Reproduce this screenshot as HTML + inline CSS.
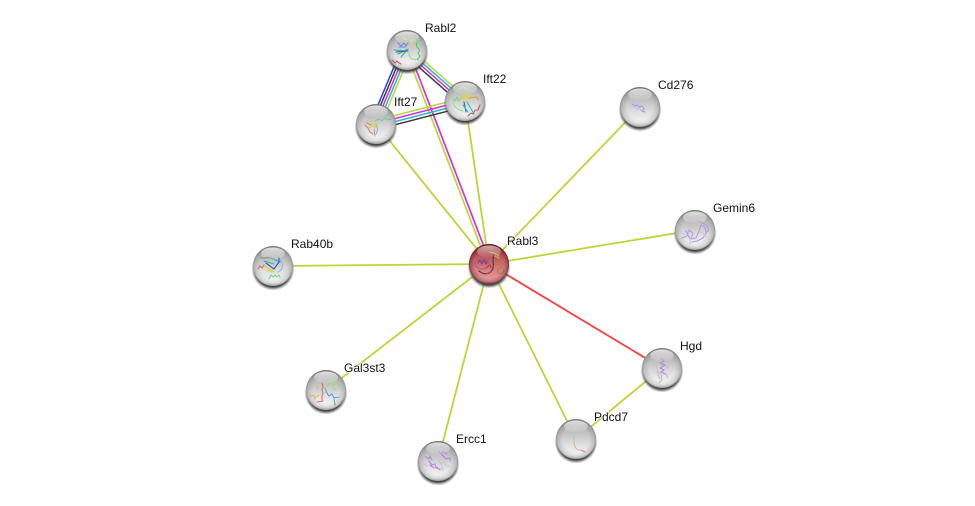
<!DOCTYPE html>
<html><head><meta charset="utf-8"><style>
html,body{margin:0;padding:0;background:#fff}
svg{display:block}
text{font-family:"Liberation Sans",sans-serif;font-size:12px;fill:#111;paint-order:stroke;stroke:#fff;stroke-width:2px;stroke-opacity:.8}
.y{stroke:#bcd535;stroke-width:1.8;fill:none}
.m line{stroke-width:1.5}
.p{fill:none;stroke-width:1.1;stroke-linejoin:round;stroke-linecap:round;filter:blur(.3px)}
</style></head><body>
<svg width="975" height="506" viewBox="0 0 975 506" xmlns="http://www.w3.org/2000/svg">
<defs>
<linearGradient id="b" x1="0" y1="0" x2="0" y2="1">
<stop offset="0" stop-color="#8c8c8c"/><stop offset=".25" stop-color="#b8b8b8"/><stop offset=".6" stop-color="#dcdcdc"/><stop offset=".9" stop-color="#f6f6f6"/><stop offset="1" stop-color="#d8d8d8"/>
</linearGradient>
<linearGradient id="r" x1="0" y1="0" x2="0" y2="1">
<stop offset="0" stop-color="#8e2a2e"/><stop offset=".3" stop-color="#bb5458"/><stop offset=".65" stop-color="#d77f82"/><stop offset=".92" stop-color="#e59a9c"/><stop offset="1" stop-color="#c87074"/>
</linearGradient>
<radialGradient id="e" cx="50%" cy="50%" r="50%">
<stop offset=".65" stop-color="#666" stop-opacity="0"/><stop offset=".9" stop-color="#666" stop-opacity=".22"/><stop offset="1" stop-color="#555" stop-opacity=".5"/>
</radialGradient>
<radialGradient id="re" cx="50%" cy="50%" r="50%">
<stop offset=".72" stop-color="#501015" stop-opacity="0"/><stop offset=".92" stop-color="#501015" stop-opacity=".3"/><stop offset="1" stop-color="#400a10" stop-opacity=".7"/>
</radialGradient>
<linearGradient id="g" x1="0" y1="0" x2="0" y2="1">
<stop offset="0" stop-color="#fff" stop-opacity=".75"/><stop offset="1" stop-color="#fff" stop-opacity=".05"/>
</linearGradient>
<radialGradient id="s" cx="50%" cy="50%" r="50%">
<stop offset=".84" stop-color="#333" stop-opacity=".9"/><stop offset="1" stop-color="#555" stop-opacity="0"/>
</radialGradient>
<g id="under"><circle cx="0" cy="3" r="21.5" fill="url(#s)"/></g>
<g id="gloss"><circle r="20" fill="url(#e)"/><ellipse cx="0" cy="-12.5" rx="12" ry="6" fill="url(#g)"/></g>
<g id="rgloss"><circle r="20" fill="url(#re)"/><ellipse cx="0" cy="-12.5" rx="12" ry="6" fill="url(#g)" opacity=".8"/></g>
</defs>

<!-- connectors -->
<line class="y" x1="376" y1="124" x2="489" y2="264"/>
<line class="y" x1="465" y1="101" x2="489" y2="264"/>
<line class="y" x1="640" y1="107" x2="489" y2="264"/>
<line class="y" x1="695" y1="230" x2="489" y2="264"/>
<line class="y" x1="273" y1="266" x2="489" y2="264"/>
<line class="y" x1="326" y1="390" x2="489" y2="264"/>
<line class="y" x1="438" y1="461" x2="489" y2="264"/>
<line class="y" x1="576" y1="439" x2="489" y2="264"/>
<line class="y" x1="662" y1="368" x2="576" y2="439"/>
<line x1="489" y1="264" x2="662" y2="368" stroke="#fb3b3b" stroke-width="1.8"/>
<line x1="405.6" y1="50.5" x2="487.6" y2="264.5" stroke="#bcd535" stroke-width="1.7"/>
<line x1="408.4" y1="49.5" x2="490.4" y2="263.5" stroke="#d52fd8" stroke-width="1.7"/>

<g class="m">
<!-- Rabl2-Ift27 -->
<line x1="401.9" y1="47.9" x2="370.9" y2="121.9" stroke="#2a3fe0"/>
<line x1="404.2" y1="48.8" x2="373.2" y2="122.8" stroke="#3a3a3a"/>
<line x1="406.5" y1="49.8" x2="375.5" y2="123.8" stroke="#d52fd8"/>
<line x1="408.8" y1="50.8" x2="377.8" y2="124.8" stroke="#22b5d5"/>
<line x1="411.2" y1="51.8" x2="380.2" y2="125.8" stroke="#bcd535"/>
<!-- Rabl2-Ift22 -->
<line x1="409" y1="47.7" x2="467" y2="98.7" stroke="#bcd535"/>
<line x1="407.3" y1="49.7" x2="465.3" y2="100.7" stroke="#22b5d5"/>
<line x1="405.5" y1="51.7" x2="463.5" y2="102.7" stroke="#d52fd8"/>
<line x1="403.7" y1="53.8" x2="461.7" y2="104.8" stroke="#3a3a3a"/>
<!-- Ift27-Ift22 -->
<line x1="375.1" y1="120.6" x2="464.1" y2="97.6" stroke="#bcd535"/>
<line x1="375.9" y1="123.5" x2="464.9" y2="100.5" stroke="#d52fd8"/>
<line x1="376.6" y1="126.4" x2="465.6" y2="103.4" stroke="#22b5d5"/>
<line x1="377.4" y1="129.3" x2="466.4" y2="106.3" stroke="#3a3a3a"/>
</g>

<!-- Rabl3 -->
<g transform="translate(489,264)"><use href="#under"/><circle r="20" fill="url(#r)"/>
<path class="p" stroke="#7a3a88" stroke-width="1.8" d="M-11-1l2-3 2 4 2-5 2 5 2-4"/>
<ellipse cx="-7" cy="0" rx="7" ry="5" fill="none" stroke="#a05a90" stroke-width=".8"/>
<path class="p" stroke="#4a3840" stroke-width="2.6" d="M-10 7c6 5 12 3 14-3 1-4-1-9 1-13"/>
<path class="p" stroke="#b08030" stroke-width="1.4" d="M8 0c4-3 7 0 5 3s-6 1-4 5 5 0 6-2"/>
<path class="p" stroke="#c04030" stroke-width="1.4" d="M-3 4l4-3 1 3M-3 10l5-2"/>
<path class="p" stroke="#c0b850" d="M1-12c3 1 6 1 9 4M6-8l4 2"/>
<use href="#rgloss"/></g>

<!-- Rabl2 -->
<g transform="translate(407,50)"><use href="#under"/><circle r="20" fill="url(#b)"/>
<path class="p" stroke="#6a8ae0" stroke-width="1.7" d="M-9-7l3 3 3-3 2 3 2-3M-8-3l6 0"/>
<path class="p" stroke="#50d060" stroke-width="1.8" d="M9-11c3 4-2 6 2 9s-2 5 1 7 -3 3-1 5"/>
<path class="p" stroke="#90e090" stroke-width=".8" d="M2-9c5-2 10 0 11 6M2 3c0 6 6 8 9 5"/>
<path class="p" stroke="#30b0a0" d="M-13 0l14 1M-9 4l10-5M-6 7l6-7"/>
<path class="p" stroke="#3060c0" d="M-11 2l12-1"/>
<path class="p" stroke="#d06050" stroke-width="1.8" d="M-15 10l3 3 2-2 2 2 2 1"/>
<path class="p" stroke="#e0d060" d="M-3-12l3 2M4-2l1-8"/>
<use href="#gloss"/></g>

<!-- Ift22 -->
<g transform="translate(465,101)"><use href="#under"/><circle r="20" fill="url(#b)"/>
<path class="p" stroke="#7ad880" stroke-width="1.4" d="M-12-3l2 3 2-4 2 4 2-3"/>
<path class="p" stroke="#90e090" stroke-width=".8" d="M-7-12c5-3 10-1 11 4M-12-3c-1 8 4 12 10 13"/>
<path class="p" stroke="#e8d040" stroke-width="1.8" d="M-3-6l2 6 2-8 2 7 2-6 1 5"/>
<path class="p" stroke="#d85a50" stroke-width="2.4" d="M3 15l3-3 2 1 2-4 3 0 2-5"/>
<path class="p" stroke="#3060d0" stroke-width="1.3" d="M-1 1l2 10"/>
<path class="p" stroke="#30b8b0" stroke-width="1.3" d="M2 1l7 12M-2 4l5 7"/>
<path class="p" stroke="#e89a40" stroke-width="1.4" d="M4-3l8-1 1 3"/>
<use href="#gloss"/></g>

<!-- Ift27 -->
<g transform="translate(376,124)"><use href="#under"/><circle r="20" fill="url(#b)"/>
<path class="p" stroke="#70d0a0" stroke-width="1.3" d="M-1-3l4-2 3 2 3-3 3 2 3-1"/>
<path class="p" stroke="#e08070" stroke-width="1.5" d="M-11 1l3 3 2 4 3 2M-9-1l4 2"/>
<path class="p" stroke="#d8d060" stroke-width="1.3" d="M-6-3l4 5 1 6M-3-1l3 4M-7 4l6-3"/>
<path class="p" stroke="#a0b0c0" d="M-2 6l1 6M0 0c2 4 2 7 0 10"/>
<use href="#gloss"/></g>

<!-- Cd276 -->
<g transform="translate(640,107)"><use href="#under"/><circle r="20" fill="url(#b)"/>
<path class="p" stroke="#a89ad8" stroke-width="1.3" d="M-8-3l3 2 2-1 2 2 3-1 2 3-2 2 3 1"/>
<path class="p" stroke="#c8c0e8" stroke-width=".9" d="M-7 0l4 2 3-1 1 3M-4-4l5 2"/>
<use href="#gloss"/></g>

<!-- Gemin6 -->
<g transform="translate(695,230)"><use href="#under"/><circle r="20" fill="url(#b)"/>
<path class="p" stroke="#b898e0" stroke-width="1.2" d="M-13 8l5-2 2-6 4 3-2 6 5-1 3-7 2-6 4 2 1 6-3 5-6 3-5 1M-9 1l4 8M3-9l6 3M10-6c4 2 4 6 2 8"/>
<path class="p" stroke="#cfc6e6" stroke-width=".8" d="M-14 3l4 2M-5 9l0 5M6 2l5 5"/>
<use href="#gloss"/></g>

<!-- Hgd -->
<g transform="translate(662,368)"><use href="#under"/><circle r="20" fill="url(#b)"/>
<path class="p" stroke="#b488dc" stroke-width="1.6" d="M-1-10l3 3-4 2 5 2-5 3 4 2-3 2 4 2"/>
<path class="p" stroke="#c0c0c8" stroke-width=".9" d="M-6-3l2 7 3 2 1 6-3 3M4 6l2 4M-5 4l3 7M3-4l3 4"/>
<use href="#gloss"/></g>

<!-- Pdcd7 -->
<g transform="translate(576,439)"><use href="#under"/><circle r="20" fill="url(#b)"/>
<path class="p" stroke="#90dcc0" d="M-1-12l-1 8 0 7"/>
<path class="p" stroke="#d8c080" d="M-2 3l1 5 3 3 3 0"/>
<path class="p" stroke="#e08a80" d="M5 11l4 2"/>
<use href="#gloss"/></g>

<!-- Ercc1 -->
<g transform="translate(438,461)"><use href="#under"/><circle r="20" fill="url(#b)"/>
<path class="p" stroke="#b488e0" stroke-width="2.2" d="M-12-4l3 2 1-3 2 4M-9 0l3 4 3-1 1 4 4 1M-8 4l4 3M-1 6l3 3"/>
<path class="p" stroke="#b488e0" stroke-width="2.2" d="M1-9l3 2 1-3 3 3 1-2M4-6l4 4 4-1 0 3"/>
<path class="p" stroke="#c8c8d0" stroke-width=".8" d="M0-2l3 5 3-2 2 4 3 0M3 3l2 6M-14 3l3 2"/>
<use href="#gloss"/></g>

<!-- Gal3st3 -->
<g transform="translate(326,390)"><use href="#under"/><circle r="20" fill="url(#b)"/>
<path class="p" stroke="#e07060" stroke-width="1.6" d="M-4-7l1 4-1 3 1 3-1 3 0 4M-9 12l6-1"/>
<path class="p" stroke="#5aa0e0" stroke-width="1.7" d="M0 2l3 4 3-2 2 4 5-1"/>
<path class="p" stroke="#a0dc80" stroke-width="1.4" d="M3-9l4 4 3-3 3 2-1 4M1-4l4-5M6-3l4 3"/>
<path class="p" stroke="#e0c060" stroke-width="1.3" d="M-15 6l3-1 1 4M-9-5l1 5M-11 8l4-3"/>
<path class="p" stroke="#50c0b0" stroke-width="1.3" d="M8 9l1 6M-1-2l2 5"/>
<use href="#gloss"/></g>

<!-- Rab40b -->
<g transform="translate(273,266)"><use href="#under"/><circle r="20" fill="url(#b)"/>
<path class="p" stroke="#28b8b0" stroke-width="1.6" d="M-12-8l10 0 9 4M-9-5l10 3"/>
<path class="p" stroke="#3a50d0" stroke-width="1.7" d="M-7-3l8 6 5-7 0-4"/>
<path class="p" stroke="#e0d040" stroke-width="1.3" d="M-8 0l9 6M-6 4l5 2"/>
<path class="p" stroke="#e06060" stroke-width="1.6" d="M-15 3l2-3 2 2 2-3M-9-8l5-1"/>
<path class="p" stroke="#70e080" stroke-width="1.9" d="M-4 13l2-4 2 2 2-2 2 2 2-2 1 2"/>
<path class="p" stroke="#90c0d0" stroke-width=".8" d="M7-6c4 4 3 10-2 12"/>
<use href="#gloss"/></g>

<!-- labels -->
<text x="425" y="32">Rabl2</text>
<text x="483" y="83">Ift22</text>
<text x="394" y="106">Ift27</text>
<text x="658" y="89">Cd276</text>
<text x="713" y="212">Gemin6</text>
<text x="507" y="245">Rabl3</text>
<text x="291" y="248">Rab40b</text>
<text x="680" y="350">Hgd</text>
<text x="344" y="372">Gal3st3</text>
<text x="594" y="421">Pdcd7</text>
<text x="456" y="443">Ercc1</text>
</svg>
</body></html>
